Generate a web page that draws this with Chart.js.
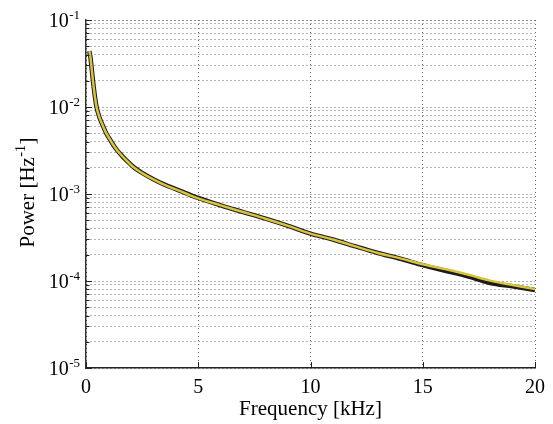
<!DOCTYPE html>
<html>
<head>
<meta charset="utf-8">
<script src="https://cdn.jsdelivr.net/npm/chart.js@4/dist/chart.umd.min.js"></script>
<style>
  html, body { margin: 0; padding: 0; background: #fff; }
  #wrap { width: 553px; height: 424px; }
</style>
</head>
<body>
<div id="wrap"><canvas id="psd"></canvas></div>
<script>
// frequency axis, kHz
const freqKhz = [0.15, 0.2, 0.25, 0.31, 0.38, 0.47, 0.6, 0.75, 0.9, 1.1, 1.3, 1.5, 1.8, 2.15, 2.5, 3, 3.5, 4, 4.5, 5,
  6, 7, 8, 9, 10, 11, 12, 13, 14, 15, 16, 17, 18, 19, 20];
// black trace
const powerBlack = [0.044, 0.037, 0.028, 0.020, 0.0142, 0.0100, 0.0076, 0.0061, 0.0050, 0.0041, 0.0034, 0.00294,
  0.00243, 0.00201, 0.00175, 0.00148, 0.00128, 0.00114, 0.00101, 0.00090,
  0.00074, 0.00062, 0.00052, 0.00043, 0.00035, 0.00030, 0.00025, 0.00021, 0.000180, 0.000152, 0.000131, 0.000113,
  0.000095, 0.000087, 0.000079];
// yellow trace
const powerYellow = [0.044, 0.037, 0.028, 0.020, 0.0142, 0.0100, 0.0076, 0.0061, 0.0050, 0.0041, 0.0034, 0.00294,
  0.00243, 0.00200, 0.00174, 0.00147, 0.00127, 0.00113, 0.00100, 0.00089,
  0.00074, 0.00062, 0.00052, 0.00043, 0.00035, 0.00030, 0.00025, 0.00021, 0.000182, 0.000156, 0.000137, 0.000119,
  0.000101, 0.000090, 0.000081];

const xTicks = [0, 5, 10, 15, 20];
const decades = [-5, -4, -3, -2, -1];

const serif = "'Liberation Serif', 'DejaVu Serif', serif";

function pts(ys) {
  return freqKhz.map((f, i) => ({ x: f, y: ys[i] }));
}

// inward tick marks, 10^n labels and the y title with superscripts
const axisExtras = {
  id: 'axisExtras',
  afterDraw(chart) {
    const { ctx, chartArea: a, scales: { x, y } } = chart;
    ctx.save();
    ctx.strokeStyle = '#222';
    ctx.lineWidth = 1;
    ctx.beginPath();
    for (const t of y.ticks) {
      const py = Math.round(y.getPixelForValue(t.value)) + 0.5;
      const len = t.major ? 6 : 3.5;
      ctx.moveTo(a.left, py); ctx.lineTo(a.left + len, py);
    }
    for (const v of xTicks) {
      const px = Math.round(x.getPixelForValue(v)) + 0.5;
      ctx.moveTo(px, a.bottom); ctx.lineTo(px, a.bottom - 6);
    }
    ctx.stroke();

    ctx.fillStyle = '#000';
    ctx.textBaseline = 'alphabetic';
    const R = a.left - 6;
    for (const d of decades) {
      const py = y.getPixelForValue(Math.pow(10, d));
      const ex = String(d);
      ctx.font = '13px ' + serif;
      const w2 = ctx.measureText(ex).width;
      ctx.textAlign = 'left';
      ctx.fillText(ex, R - w2, py - 1);
      ctx.font = '20px ' + serif;
      ctx.textAlign = 'right';
      ctx.fillText('10', R - w2 - 0.5, py + 7);
    }

    // y title, rotated
    const cy = (a.top + a.bottom) / 2 - 1;
    ctx.translate(34, cy);
    ctx.rotate(-Math.PI / 2);
    const p1 = 'Power [Hz', p2 = '-1', p3 = ']';
    ctx.font = '21px ' + serif;
    const w1 = ctx.measureText(p1).width, w3 = ctx.measureText(p3).width;
    ctx.font = '14px ' + serif;
    const w2 = ctx.measureText(p2).width;
    let sx = -(w1 + w2 + w3) / 2;
    ctx.textAlign = 'left';
    ctx.font = '21px ' + serif;
    ctx.fillText(p1, sx, 0);
    sx += w1 + 0.5;
    ctx.font = '14px ' + serif;
    ctx.fillText(p2, sx, -9);
    sx += w2 + 0.5;
    ctx.font = '21px ' + serif;
    ctx.fillText(p3, sx, 0);
    ctx.restore();
  }
};

new Chart(document.getElementById('psd'), {
  type: 'line',
  data: {
    datasets: [
      {
        label: 'yellow',
        data: pts(powerYellow),
        borderColor: '#d8c43c',
        borderWidth: 2.5,
        pointRadius: 0,
        cubicInterpolationMode: 'monotone',
        fill: false
      },
      {
        label: 'black',
        data: pts(powerBlack),
        borderColor: '#1c1c1c',
        borderWidth: 4.5,
        pointRadius: 0,
        cubicInterpolationMode: 'monotone',
        fill: false
      }
    ]
  },
  options: {
    responsive: true,
    maintainAspectRatio: false,
    animation: false,
    layout: { padding: { left: 0, right: 11, top: 20, bottom: 0 } },
    plugins: { legend: { display: false }, tooltip: { enabled: false } },
    scales: {
      x: {
        type: 'linear',
        min: 0,
        max: 20,
        afterBuildTicks: s => { s.ticks = xTicks.map(v => ({ value: v })); },
        afterFit: s => { s.height = 56; },
        ticks: { color: '#000', font: { family: serif, size: 20 }, padding: 8, maxRotation: 0 },
        grid: { color: '#666', lineWidth: 1, drawTicks: false },
        border: { display: true, color: '#222', width: 1.5, dash: [1, 3] },
        title: { display: true, text: 'Frequency [kHz]', color: '#000', font: { family: serif, size: 21 }, padding: { top: 0, bottom: 2 } }
      },
      y: {
        type: 'logarithmic',
        min: 1e-5,
        max: 1e-1,
        afterBuildTicks: s => {
          const t = [];
          for (const d of decades) {
            for (let m = 1; m <= 9; m++) t.push({ value: m * Math.pow(10, d), major: m === 1 });
          }
          t.push({ value: 1e-1, major: true });
          s.ticks = t;
        },
        afterFit: s => { s.width = 86; },
        ticks: { display: false, autoSkip: false },
        grid: { color: '#666', lineWidth: 1, drawTicks: false },
        border: { display: true, color: '#333', width: 1.5, dash: [1, 3] },
        title: { display: false }
      }
    }
  },
  plugins: [axisExtras]
});
</script>
</body>
</html>
